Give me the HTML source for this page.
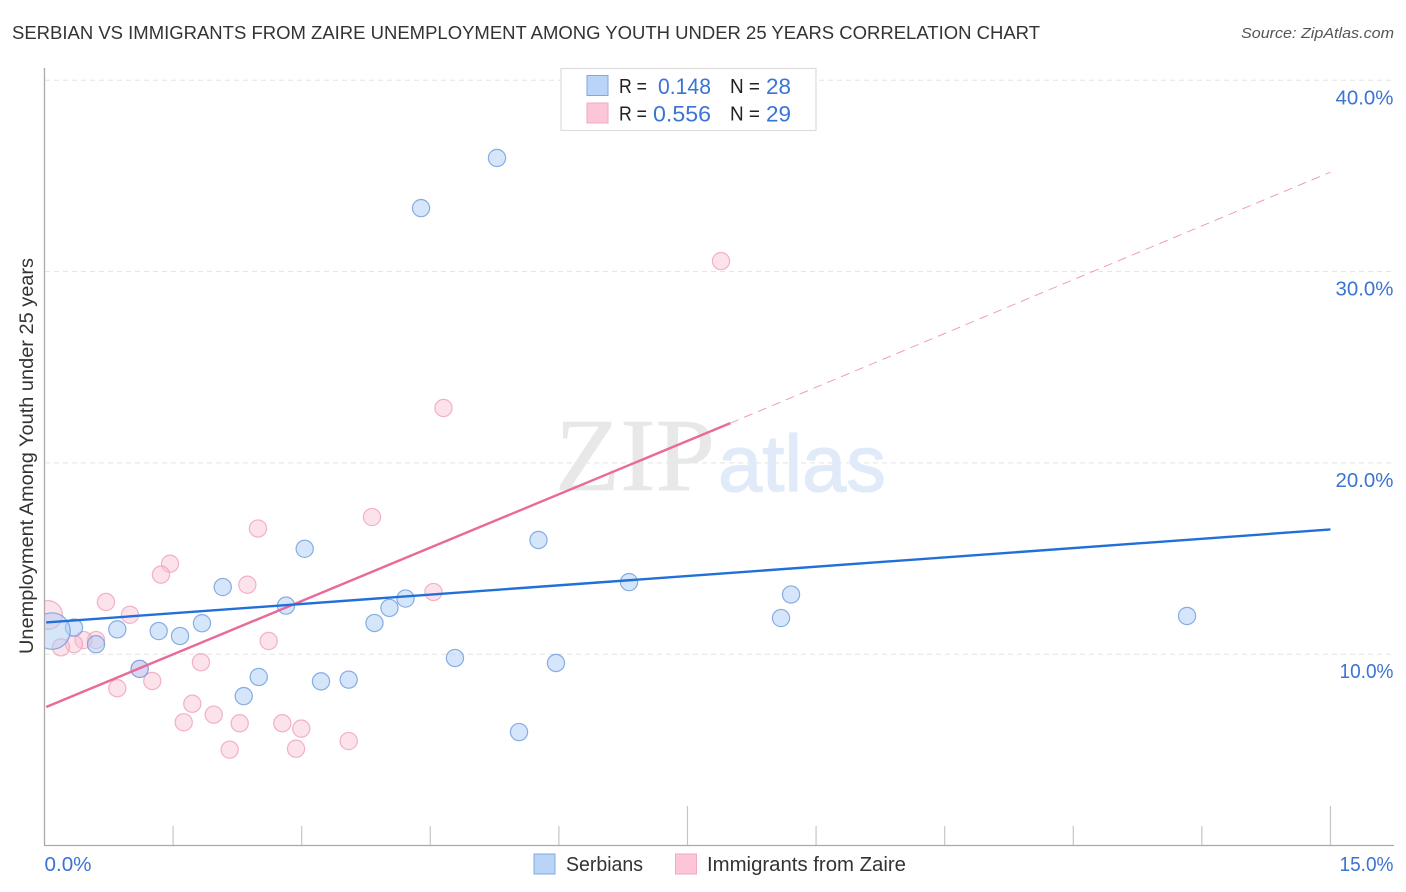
<!DOCTYPE html>
<html lang="en">
<head>
<meta charset="utf-8">
<title>Serbian vs Immigrants from Zaire Unemployment Correlation Chart</title>
<style>
html,body{margin:0;padding:0;background:#fff;width:1406px;height:892px;overflow:hidden}
svg{display:block}
text{font-family:"Liberation Sans",sans-serif}
</style>
</head>
<body>
<svg id="chart" xmlns="http://www.w3.org/2000/svg" width="1406" height="892" viewBox="0 0 1406 892">
  <rect x="0" y="0" width="1406" height="892" fill="#ffffff"/>
  <text x="12" y="39" font-size="18.5" fill="#333333" textLength="1028" lengthAdjust="spacingAndGlyphs">SERBIAN VS IMMIGRANTS FROM ZAIRE UNEMPLOYMENT AMONG YOUTH UNDER 25 YEARS CORRELATION CHART</text>
  <text x="1241" y="38" font-size="15" font-style="italic" fill="#555555" textLength="153" lengthAdjust="spacingAndGlyphs">Source: ZipAtlas.com</text>
  <text transform="translate(33,456) rotate(-90)" text-anchor="middle" font-size="19" fill="#333333" textLength="396" lengthAdjust="spacingAndGlyphs">Unemployment Among Youth under 25 years</text>
  <g id="grid"></g>
  <text x="555" y="490" font-size="104" fill="#e8e8e8" stroke="#e8e8e8" stroke-width="0.6" style="font-family:'Liberation Serif',serif" textLength="160" lengthAdjust="spacingAndGlyphs">ZIP</text>
  <text x="718" y="491" font-size="80" fill="#e0eaf9" stroke="#e0eaf9" stroke-width="1.2" textLength="168" lengthAdjust="spacingAndGlyphs">atlas</text>
  <g id="axes"></g>
  <g id="points"></g>
  <g id="lines"></g>
  <g id="labels"></g>

  <g>
    <rect x="561" y="68.5" width="255" height="62" fill="#ffffff" stroke="#dddddd" stroke-width="1.2"/>
    <rect x="587" y="75.5" width="21" height="20" fill="#b9d4f7" stroke="#7fa9e0" stroke-width="1"/>
    <rect x="587" y="103" width="21" height="20" fill="#fcc6d8" stroke="#f2a8c0" stroke-width="1"/>
    <text x="619" y="93" font-size="20" fill="#222222" textLength="28" lengthAdjust="spacingAndGlyphs">R =</text>
    <text x="658" y="94" font-size="22" fill="#3b74d2" textLength="53" lengthAdjust="spacingAndGlyphs">0.148</text>
    <text x="730" y="93" font-size="20" fill="#222222" textLength="30" lengthAdjust="spacingAndGlyphs">N =</text>
    <text x="766" y="94" font-size="22" fill="#3b74d2" textLength="25" lengthAdjust="spacingAndGlyphs">28</text>
    <text x="619" y="120.5" font-size="20" fill="#222222" textLength="28" lengthAdjust="spacingAndGlyphs">R =</text>
    <text x="653" y="121.5" font-size="22" fill="#3b74d2" textLength="58" lengthAdjust="spacingAndGlyphs">0.556</text>
    <text x="730" y="120.5" font-size="20" fill="#222222" textLength="30" lengthAdjust="spacingAndGlyphs">N =</text>
    <text x="766" y="121.5" font-size="22" fill="#3b74d2" textLength="25" lengthAdjust="spacingAndGlyphs">29</text>
  </g>

  <g>
    <rect x="534" y="854" width="21" height="20" fill="#b9d4f7" stroke="#7fa9e0" stroke-width="1"/>
    <text x="566" y="871" font-size="20" fill="#333333" textLength="77" lengthAdjust="spacingAndGlyphs">Serbians</text>
    <rect x="675.5" y="854" width="21" height="20" fill="#fcc6d8" stroke="#f2a8c0" stroke-width="1"/>
    <text x="707" y="871" font-size="20" fill="#333333" textLength="199" lengthAdjust="spacingAndGlyphs">Immigrants from Zaire</text>
  </g>
</svg>
<script>
const xTickValues = [0, 1.5, 3, 4.5, 6, 7.5, 9, 10.5, 12, 13.5, 15];
const xMajorTicks = [7.5, 15];
const xTickLabels = ["0.0%", "15.0%"];
const xTickLabelValues = [0, 15];
const yTickValues = [10, 20, 30, 40];
const yTickLabels = ["10.0%", "20.0%", "30.0%", "40.0%"];

const serbiansX = [5.278, 4.392, 3.035, 5.762, 2.079, 6.818, 8.708, 4.211, 2.817, 4.024, 8.591, 13.327, 3.849, 1.837, 0.849, 1.332, 1.581, 0.344, 0.601, 1.110, 4.788, 5.966, 2.499, 3.225, 3.548, 2.324, 5.535, 0.087];
const serbiansY = [35.94, 33.32, 15.51, 15.97, 13.51, 13.77, 13.12, 12.91, 12.54, 12.42, 11.89, 12.00, 11.63, 11.62, 11.30, 11.21, 10.95, 11.39, 10.52, 9.23, 9.80, 9.54, 8.81, 8.58, 8.67, 7.81, 5.93, 11.21];
const serbiansWeight = [1, 1, 1, 1, 1, 1, 1, 1, 1, 1, 1, 1, 1, 1, 1, 1, 1, 1, 1, 1, 1, 1, 1, 1, 1, 1, 1, 4.5];

const zaireX = [7.891, 4.654, 3.820, 2.490, 1.464, 1.359, 2.366, 4.537, 0.717, 0.997, 0.041, 0.601, 0.455, 0.344, 0.192, 2.615, 1.825, 1.110, 1.257, 0.849, 1.724, 1.974, 1.624, 2.277, 2.774, 2.995, 3.548, 2.160, 2.934];
const zaireY = [30.55, 22.87, 17.17, 16.57, 14.73, 14.16, 13.63, 13.25, 12.73, 12.06, 12.05, 10.74, 10.74, 10.53, 10.36, 10.69, 9.58, 9.23, 8.60, 8.22, 7.41, 6.84, 6.44, 6.39, 6.39, 6.11, 5.46, 5.01, 5.06];
const zaireWeight = [1, 1, 1, 1, 1, 1, 1, 1, 1, 1, 2.8, 1, 1, 1, 1, 1, 1, 1, 1, 1, 1, 1, 1, 1, 1, 1, 1, 1, 1];

const serbiansTrendX = [0.02, 15];
const serbiansTrendY = [11.66, 16.52];
const zaireTrendX = [0.02, 8.0];
const zaireTrendY = [7.24, 22.08];
const zaireForecastX = [8.0, 15];
const zaireForecastY = [22.08, 35.2];

const NS = 'http://www.w3.org/2000/svg';
function sx(v) { return 44.5 + v * 85.73; }
function sy(v) { return 845.5 - v * 19.13; }
function make(tag, attrs, parent) {
  const el = document.createElementNS(NS, tag);
  for (const k in attrs) el.setAttribute(k, attrs[k]);
  parent.appendChild(el);
  return el;
}

const gridG = document.getElementById('grid');
yTickValues.forEach(function (v) {
  const el = make('line', { x1: 45, x2: 1394, y1: sy(v), y2: sy(v), stroke: '#e3e3e3', 'stroke-width': 1, 'stroke-dasharray': '5 4' }, gridG);
  
  
});

const axesG = document.getElementById('axes');
xTickValues.forEach(function (v) {
  if (v === 0) return;
  const top = xMajorTicks.indexOf(v) >= 0 ? 806 : 826;
  const el = make('line', { x1: sx(v), x2: sx(v), y1: top, y2: sy(0), stroke: '#c6c6c6', 'stroke-width': 1.2 }, axesG);
  
  
});
const yAxis = make('line', { x1: 44.5, x2: 44.5, y1: 68, y2: 846, stroke: '#aaaaaa', 'stroke-width': 1.3 }, axesG);


const xAxis = make('line', { x1: 44, x2: 1394, y1: 845.5, y2: 845.5, stroke: '#aaaaaa', 'stroke-width': 1.3 }, axesG);



const defs = make('defs', {}, document.getElementById('chart'));
const clip = make('clipPath', { id: 'plot-clip' }, defs);
make('rect', { x: 45, y: 60, width: 1349, height: 786 }, clip);

const pointsG = document.getElementById('points');
pointsG.setAttribute('clip-path', 'url(#plot-clip)');
zaireX.forEach(function (v, i) {
  const el = make('circle', { cx: sx(v), cy: sy(zaireY[i]), r: 8.6 * Math.sqrt(zaireWeight[i]), fill: '#f9b9ce', 'fill-opacity': 0.42, stroke: '#f0a0ba', 'stroke-opacity': 0.8, 'stroke-width': 1.2 }, pointsG);
  
  
});
serbiansX.forEach(function (v, i) {
  const el = make('circle', { cx: sx(v), cy: sy(serbiansY[i]), r: 8.6 * Math.sqrt(serbiansWeight[i]), fill: '#aecdf5', 'fill-opacity': 0.5, stroke: '#6d9bdc', 'stroke-opacity': 0.8, 'stroke-width': 1.2 }, pointsG);
  
  
});

const linesG = document.getElementById('lines');
const forecast = make('line', { x1: sx(zaireForecastX[0]), y1: sy(zaireForecastY[0]), x2: sx(zaireForecastX[1]), y2: sy(zaireForecastY[1]), stroke: '#e8789f', 'stroke-width': 0.9, 'stroke-dasharray': '9 6', 'stroke-opacity': 0.8 }, linesG);


const zaireLine = make('line', { x1: sx(zaireTrendX[0]), y1: sy(zaireTrendY[0]), x2: sx(zaireTrendX[1]), y2: sy(zaireTrendY[1]), stroke: '#e8699a', 'stroke-width': 2.4 }, linesG);


const serbLine = make('line', { x1: sx(serbiansTrendX[0]), y1: sy(serbiansTrendY[0]), x2: sx(serbiansTrendX[1]), y2: sy(serbiansTrendY[1]), stroke: '#2170d8', 'stroke-width': 2.4 }, linesG);



const labelsG = document.getElementById('labels');
yTickValues.forEach(function (v, i) {
  const t = make('text', { x: 1393.5, y: sy(v) + 24, 'text-anchor': 'end', 'font-size': 20.5, fill: '#3b74d2', textLength: yTickLabels[i].charAt(0) === '1' ? 54 : 58, lengthAdjust: 'spacingAndGlyphs' }, labelsG);
  
  
  t.textContent = yTickLabels[i];
});
xTickLabelValues.forEach(function (v, i) {
  const t = make('text', { x: i === 0 ? sx(v) : 1393.5, y: 871, 'text-anchor': i === 0 ? 'start' : 'end', 'font-size': 20.5, fill: '#3b74d2', textLength: i === 0 ? 47 : 54, lengthAdjust: 'spacingAndGlyphs' }, labelsG);
  
  
  t.textContent = xTickLabels[i];
});
</script>
</body>
</html>
